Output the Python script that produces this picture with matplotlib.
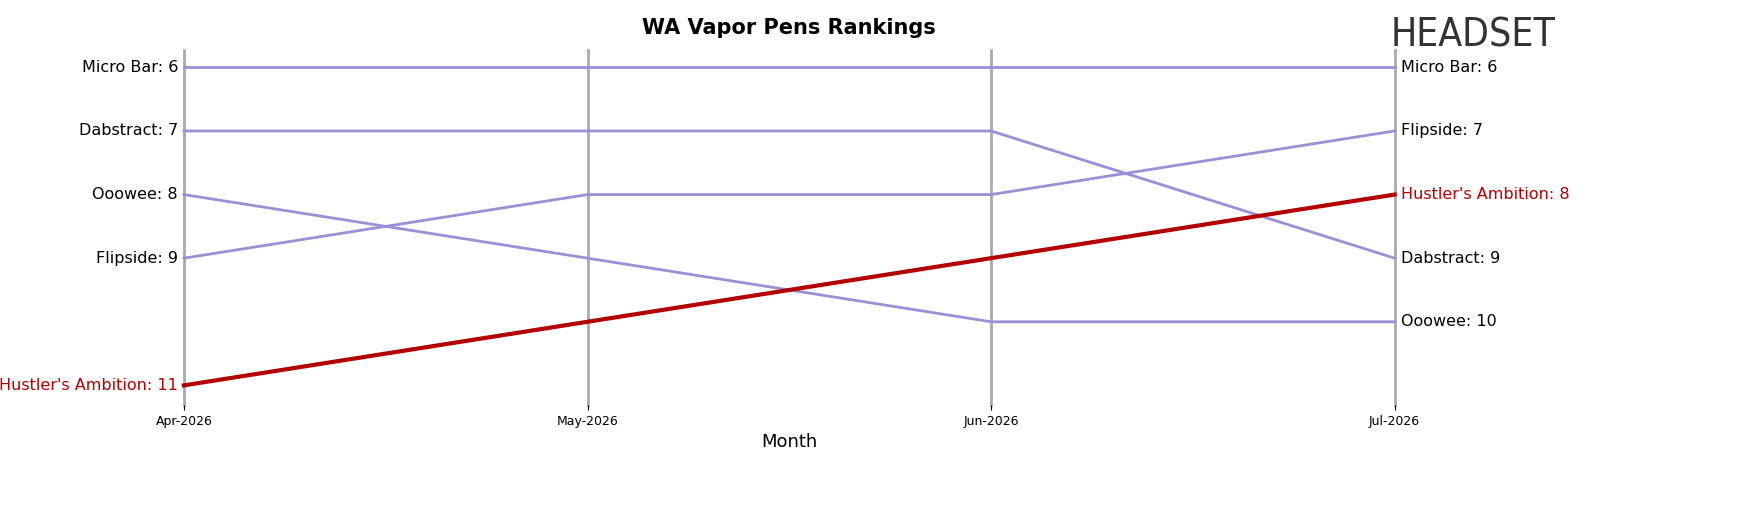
import matplotlib
matplotlib.use('Agg')
import matplotlib.pyplot as plt

months = ['Apr-2026', 'May-2026', 'Jun-2026', 'Jul-2026']
brands = ['Micro Bar', 'Dabstract', 'Ooowee', 'Flipside', "Hustler's Ambition"]
ranks = {
    'Micro Bar': [6, 6, 6, 6],
    'Dabstract': [7, 7, 7, 9],
    'Ooowee': [8, 9, 10, 10],
    'Flipside': [9, 8, 8, 7],
    "Hustler's Ambition": [11, 10, 9, 8],
}
highlight = "Hustler's Ambition"

fig = plt.figure(figsize=(17.52, 5.07), dpi=100)
ax = fig.add_axes([0.105, 0.201, 0.691, 0.70])
x = list(range(len(months)))

for xi in x:
    ax.axvline(xi, color='#aaaaaa', lw=2, zorder=1, clip_on=False)

for b in brands:
    r = ranks[b]
    if b == highlight:
        col, lw, z = '#b30000', 3, 3
    else:
        col, lw, z = '#9b8fd8', 2, 2
    ax.plot(x, r, color=col, lw=lw, zorder=z, clip_on=False)
    tc = col if b == highlight else 'black'
    ax.text(-0.015, r[0], f'{b}: {r[0]}', ha='right', va='center', fontsize=11.5, color=tc)
    ax.text(3.015, r[-1], f'{b}: {r[-1]}', ha='left', va='center', fontsize=11.5, color=tc)

ax.set_xlim(0, 3)
ax.set_ylim(11.31, 5.73)
ax.set_xticks(x)
ax.set_xticklabels(months, fontsize=9)
ax.set_yticks([])
for s in ax.spines.values():
    s.set_visible(False)
ax.set_xlabel('Month', fontsize=13)
ax.set_title('WA Vapor Pens Rankings', fontsize=15, fontweight='bold', pad=12)

fig.text(0.794, 0.93, 'HEADSET', fontsize=28, color='#333333', ha='left', va='center',
         fontstretch='condensed')

fig.savefig('out.png', dpi=100)
